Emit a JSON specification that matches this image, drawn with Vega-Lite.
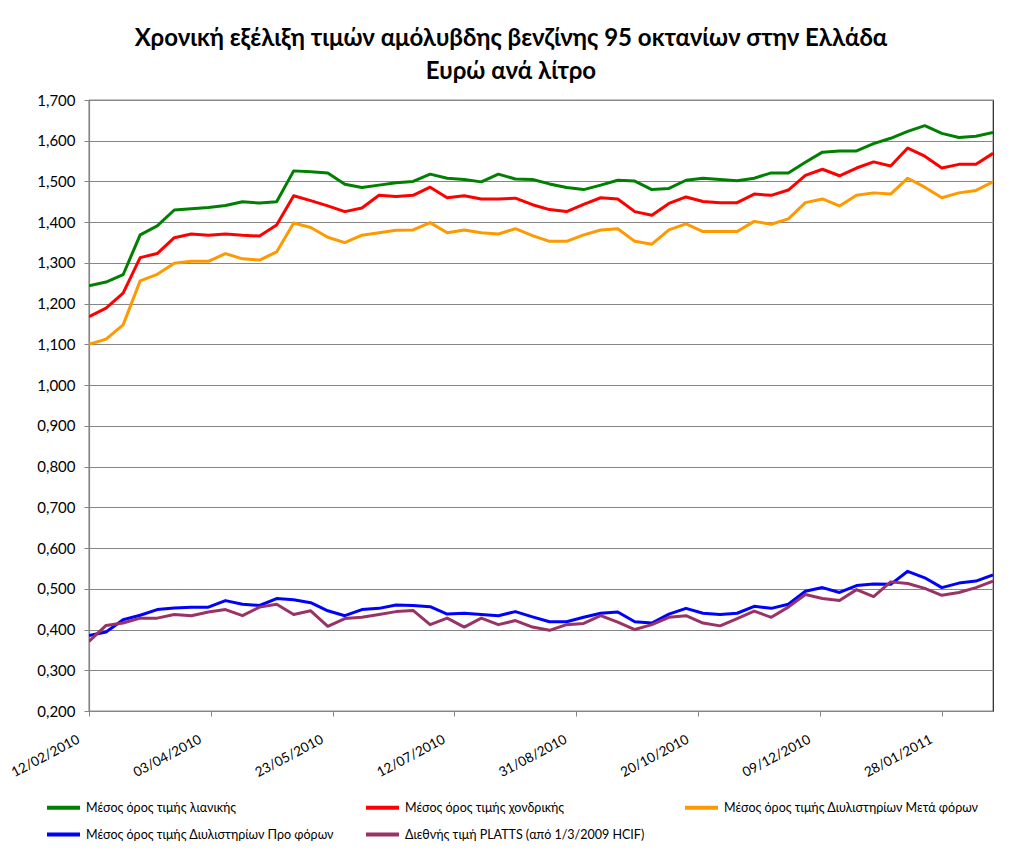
{
  "$schema": "https://vega.github.io/schema/vega-lite/v6.json",
  "width": 904,
  "height": 611,
  "autosize": {"type": "none"},
  "padding": {"left": 89, "top": 100, "right": 17, "bottom": 141},
  "background": "white",
  "config": {
    "font": "Lato",
    "view": {"stroke": "#222", "strokeWidth": 1.2}
  },
  "title": {
    "text": ["Χρονική εξέλιξη τιμών αμόλυβδης βενζίνης 95 οκτανίων στην Ελλάδα", "Ευρώ ανά λίτρο"],
    "font": "Lato",
    "fontSize": 24,
    "fontWeight": "bold",
    "color": "#000",
    "anchor": "middle",
    "dx": -30,
    "lineHeight": 33,
    "offset": 9
  },
  "data": {
    "values": [
      {"d": "2010-02-12", "G": 1.244, "R": 1.168, "O": 1.100, "B": 0.385, "P": 0.371},
      {"d": "2010-02-19", "G": 1.253, "R": 1.189, "O": 1.113, "B": 0.394, "P": 0.410},
      {"d": "2010-02-26", "G": 1.271, "R": 1.226, "O": 1.148, "B": 0.424, "P": 0.416},
      {"d": "2010-03-05", "G": 1.369, "R": 1.313, "O": 1.256, "B": 0.435, "P": 0.428},
      {"d": "2010-03-12", "G": 1.391, "R": 1.323, "O": 1.272, "B": 0.449, "P": 0.428},
      {"d": "2010-03-19", "G": 1.430, "R": 1.362, "O": 1.299, "B": 0.453, "P": 0.437},
      {"d": "2010-03-26", "G": 1.433, "R": 1.371, "O": 1.304, "B": 0.455, "P": 0.434},
      {"d": "2010-04-02", "G": 1.436, "R": 1.368, "O": 1.304, "B": 0.455, "P": 0.443},
      {"d": "2010-04-09", "G": 1.441, "R": 1.371, "O": 1.323, "B": 0.471, "P": 0.449},
      {"d": "2010-04-16", "G": 1.450, "R": 1.368, "O": 1.310, "B": 0.462, "P": 0.434},
      {"d": "2010-04-23", "G": 1.447, "R": 1.366, "O": 1.307, "B": 0.459, "P": 0.455},
      {"d": "2010-04-30", "G": 1.450, "R": 1.393, "O": 1.327, "B": 0.476, "P": 0.462},
      {"d": "2010-05-07", "G": 1.526, "R": 1.465, "O": 1.398, "B": 0.473, "P": 0.437},
      {"d": "2010-05-14", "G": 1.524, "R": 1.453, "O": 1.387, "B": 0.466, "P": 0.446},
      {"d": "2010-05-21", "G": 1.521, "R": 1.440, "O": 1.363, "B": 0.446, "P": 0.408},
      {"d": "2010-05-28", "G": 1.493, "R": 1.426, "O": 1.350, "B": 0.434, "P": 0.427},
      {"d": "2010-06-04", "G": 1.485, "R": 1.435, "O": 1.368, "B": 0.449, "P": 0.430},
      {"d": "2010-06-11", "G": 1.491, "R": 1.466, "O": 1.374, "B": 0.452, "P": 0.437},
      {"d": "2010-06-18", "G": 1.497, "R": 1.463, "O": 1.380, "B": 0.460, "P": 0.444},
      {"d": "2010-06-25", "G": 1.500, "R": 1.466, "O": 1.381, "B": 0.459, "P": 0.447},
      {"d": "2010-07-02", "G": 1.518, "R": 1.486, "O": 1.399, "B": 0.456, "P": 0.412},
      {"d": "2010-07-09", "G": 1.508, "R": 1.460, "O": 1.374, "B": 0.438, "P": 0.428},
      {"d": "2010-07-16", "G": 1.505, "R": 1.465, "O": 1.381, "B": 0.440, "P": 0.406},
      {"d": "2010-07-23", "G": 1.499, "R": 1.457, "O": 1.374, "B": 0.437, "P": 0.428},
      {"d": "2010-07-30", "G": 1.518, "R": 1.457, "O": 1.371, "B": 0.434, "P": 0.412},
      {"d": "2010-08-06", "G": 1.506, "R": 1.459, "O": 1.384, "B": 0.444, "P": 0.422},
      {"d": "2010-08-13", "G": 1.505, "R": 1.443, "O": 1.367, "B": 0.431, "P": 0.406},
      {"d": "2010-08-20", "G": 1.494, "R": 1.431, "O": 1.353, "B": 0.419, "P": 0.398},
      {"d": "2010-08-27", "G": 1.485, "R": 1.426, "O": 1.353, "B": 0.419, "P": 0.412},
      {"d": "2010-09-03", "G": 1.480, "R": 1.444, "O": 1.369, "B": 0.430, "P": 0.415},
      {"d": "2010-09-10", "G": 1.491, "R": 1.460, "O": 1.381, "B": 0.440, "P": 0.434},
      {"d": "2010-09-17", "G": 1.503, "R": 1.457, "O": 1.384, "B": 0.443, "P": 0.418},
      {"d": "2010-09-24", "G": 1.501, "R": 1.426, "O": 1.353, "B": 0.419, "P": 0.400},
      {"d": "2010-10-01", "G": 1.480, "R": 1.417, "O": 1.346, "B": 0.416, "P": 0.412},
      {"d": "2010-10-08", "G": 1.483, "R": 1.446, "O": 1.381, "B": 0.438, "P": 0.430},
      {"d": "2010-10-15", "G": 1.503, "R": 1.462, "O": 1.396, "B": 0.452, "P": 0.434},
      {"d": "2010-10-22", "G": 1.508, "R": 1.451, "O": 1.377, "B": 0.440, "P": 0.416},
      {"d": "2010-10-29", "G": 1.505, "R": 1.448, "O": 1.377, "B": 0.437, "P": 0.409},
      {"d": "2010-11-05", "G": 1.502, "R": 1.448, "O": 1.377, "B": 0.440, "P": 0.427},
      {"d": "2010-11-12", "G": 1.508, "R": 1.469, "O": 1.402, "B": 0.457, "P": 0.445},
      {"d": "2010-11-19", "G": 1.521, "R": 1.466, "O": 1.395, "B": 0.452, "P": 0.430},
      {"d": "2010-11-26", "G": 1.521, "R": 1.479, "O": 1.408, "B": 0.462, "P": 0.455},
      {"d": "2010-12-03", "G": 1.547, "R": 1.515, "O": 1.448, "B": 0.494, "P": 0.486},
      {"d": "2010-12-10", "G": 1.572, "R": 1.530, "O": 1.457, "B": 0.503, "P": 0.476},
      {"d": "2010-12-17", "G": 1.575, "R": 1.514, "O": 1.440, "B": 0.491, "P": 0.471},
      {"d": "2010-12-24", "G": 1.575, "R": 1.533, "O": 1.466, "B": 0.508, "P": 0.498},
      {"d": "2010-12-31", "G": 1.593, "R": 1.548, "O": 1.472, "B": 0.512, "P": 0.481},
      {"d": "2011-01-07", "G": 1.606, "R": 1.538, "O": 1.469, "B": 0.511, "P": 0.517},
      {"d": "2011-01-14", "G": 1.623, "R": 1.582, "O": 1.508, "B": 0.543, "P": 0.513},
      {"d": "2011-01-21", "G": 1.637, "R": 1.562, "O": 1.486, "B": 0.527, "P": 0.501},
      {"d": "2011-01-28", "G": 1.618, "R": 1.533, "O": 1.460, "B": 0.503, "P": 0.484},
      {"d": "2011-02-04", "G": 1.608, "R": 1.542, "O": 1.472, "B": 0.514, "P": 0.491},
      {"d": "2011-02-11", "G": 1.611, "R": 1.542, "O": 1.478, "B": 0.519, "P": 0.503},
      {"d": "2011-02-18", "G": 1.620, "R": 1.569, "O": 1.499, "B": 0.534, "P": 0.519}
    ]
  },
  "transform": [
    {"fold": ["G", "R", "O", "B", "P"], "as": ["series", "value"]}
  ],
  "mark": {"type": "line", "strokeWidth": 3, "strokeJoin": "round", "clip": true},
  "encoding": {
    "x": {
      "field": "d",
      "type": "temporal",
      "scale": {
        "type": "utc",
        "domain": [
          {"year": 2010, "month": 2, "date": 12, "utc": true},
          {"year": 2011, "month": 2, "date": 18, "utc": true}
        ]
      },
      "axis": {
        "title": null,
        "grid": false,
        "values": [
          {"year": 2010, "month": 2, "date": 12, "utc": true},
          {"year": 2010, "month": 4, "date": 3, "utc": true},
          {"year": 2010, "month": 5, "date": 23, "utc": true},
          {"year": 2010, "month": 7, "date": 12, "utc": true},
          {"year": 2010, "month": 8, "date": 31, "utc": true},
          {"year": 2010, "month": 10, "date": 20, "utc": true},
          {"year": 2010, "month": 12, "date": 9, "utc": true},
          {"year": 2011, "month": 1, "date": 28, "utc": true}
        ],
        "labelExpr": "utcFormat(datum.value, '%d/%m/%Y')",
        "labelAngle": -28,
        "labelAlign": "right",
        "labelBaseline": "top",
        "labelFont": "Lato",
        "labelFontSize": 13.5,
        "labelColor": "#000",
        "labelPadding": 16,
        "labelOffset": -14,
        "labelOverlap": false,
        "labelFlush": false,
        "labelBound": false,
        "tickSize": 5,
        "tickColor": "#868686",
        "domainColor": "#868686",
        "domainWidth": 1.2
      }
    },
    "y": {
      "field": "value",
      "type": "quantitative",
      "scale": {"domain": [0.2, 1.7], "nice": false, "zero": false},
      "axis": {
        "title": null,
        "values": [0.2, 0.3, 0.4, 0.5, 0.6, 0.7, 0.8, 0.9, 1.0, 1.1, 1.2, 1.3, 1.4, 1.5, 1.6, 1.7],
        "labelExpr": "replace(format(datum.value, '.3f'), '.', ',')",
        "labelFont": "Lato",
        "labelFontSize": 15,
        "labelColor": "#000",
        "labelPadding": 9,
        "tickSize": 5,
        "tickColor": "#868686",
        "domainColor": "#868686",
        "domainWidth": 1.2,
        "gridColor": "#868686",
        "gridWidth": 1
      }
    },
    "color": {
      "field": "series",
      "type": "nominal",
      "scale": {
        "domain": ["G", "B", "R", "P", "O"],
        "range": ["#008000", "#0000FF", "#FF0000", "#993366", "#FF9900"]
      },
      "legend": {
        "orient": "none",
        "legendX": -44,
        "legendY": 689,
        "title": null,
        "columns": 3,
        "gridAlign": "all",
        "columnPadding": 17,
        "rowPadding": -8,
        "symbolType": "stroke",
        "symbolSize": 1089,
        "symbolStrokeWidth": 4,
        "labelFont": "Lato",
        "labelFontSize": 12.5,
        "labelColor": "#000",
        "labelOffset": 4,
        "labelLimit": 400,
        "labelExpr": "{'G': 'Μέσος όρος τιμής λιανικής', 'R': 'Μέσος όρος τιμής χονδρικής', 'O': 'Μέσος όρος τιμής Διυλιστηρίων Μετά φόρων', 'B': 'Μέσος όρος τιμής Διυλιστηρίων Προ φόρων', 'P': 'Διεθνής τιμή PLATTS (από 1/3/2009 HCIF)'}[datum.value]"
      }
    }
  }
}
